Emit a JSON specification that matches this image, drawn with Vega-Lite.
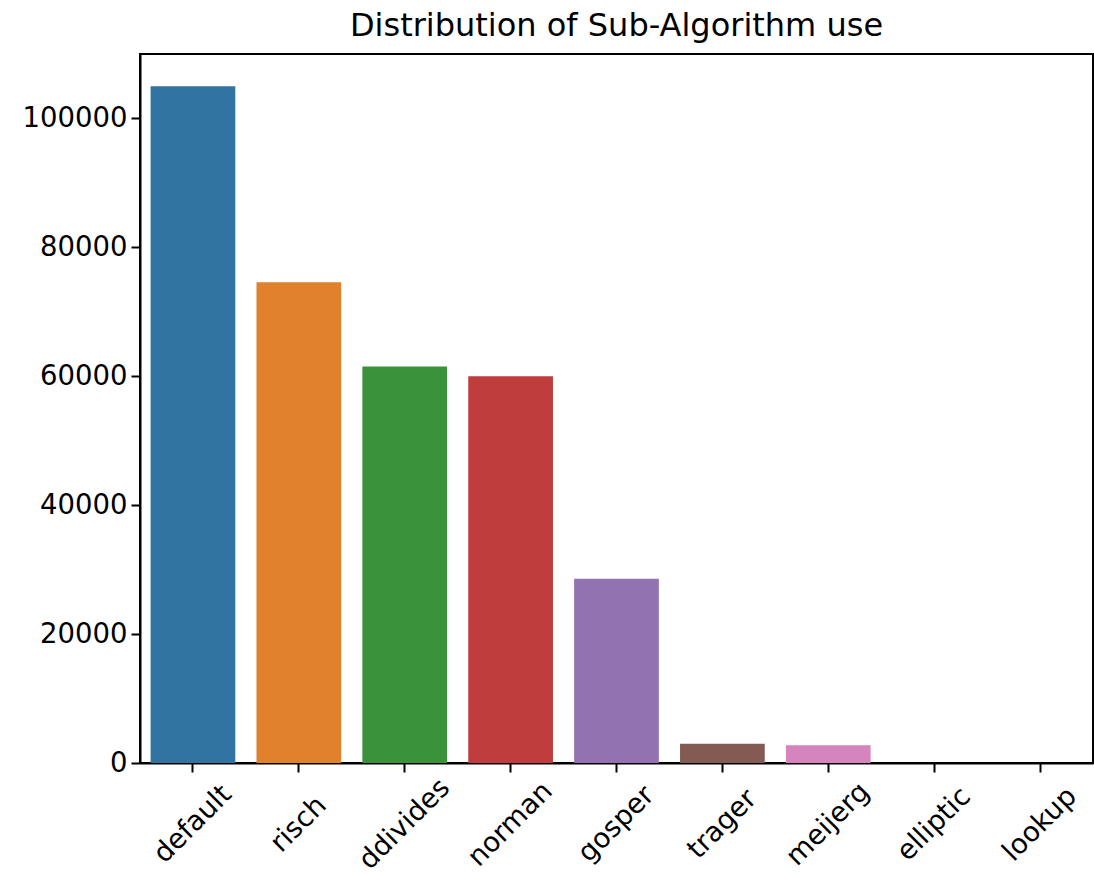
{
  "$schema": "https://vega.github.io/schema/vega-lite/v6.json",
  "width": 953,
  "height": 709,
  "autosize": {"type": "none"},
  "padding": {"left": 140, "top": 54, "right": 1, "bottom": 112},
  "background": "white",
  "title": {
    "text": "Distribution of Sub-Algorithm use",
    "font": "DejaVu Sans",
    "fontSize": 32,
    "fontWeight": "normal",
    "color": "#000000",
    "anchor": "middle",
    "offset": 11
  },
  "config": {
    "view": {"stroke": "#000000", "strokeWidth": 2},
    "axis": {
      "labelFont": "DejaVu Sans",
      "labelFontSize": 27.5,
      "labelColor": "#000000",
      "domainColor": "#000000",
      "domainWidth": 2,
      "tickColor": "#000000",
      "tickWidth": 2,
      "tickSize": 9,
      "grid": false,
      "title": null
    }
  },
  "data": {
    "values": [
      {"algorithm": "default", "count": 105000},
      {"algorithm": "risch", "count": 74600},
      {"algorithm": "ddivides", "count": 61500},
      {"algorithm": "norman", "count": 60000},
      {"algorithm": "gosper", "count": 28600},
      {"algorithm": "trager", "count": 3000},
      {"algorithm": "meijerg", "count": 2750},
      {"algorithm": "elliptic", "count": 0},
      {"algorithm": "lookup", "count": 0}
    ]
  },
  "mark": {"type": "bar"},
  "encoding": {
    "x": {
      "field": "algorithm",
      "type": "nominal",
      "sort": null,
      "scale": {"paddingInner": 0.2, "paddingOuter": 0.1},
      "axis": {
        "labelAngle": -45,
        "labelAlign": "center",
        "labelBaseline": "middle",
        "labelPadding": 52
      }
    },
    "y": {
      "field": "count",
      "type": "quantitative",
      "scale": {"domain": [0, 110000], "nice": false},
      "axis": {
        "values": [0, 20000, 40000, 60000, 80000, 100000],
        "format": "d",
        "labelPadding": 4
      }
    },
    "color": {
      "field": "algorithm",
      "type": "nominal",
      "sort": null,
      "legend": null,
      "scale": {
        "domain": ["default", "risch", "ddivides", "norman", "gosper", "trager", "meijerg", "elliptic", "lookup"],
        "range": ["#3274a1", "#e1812c", "#3a923a", "#c03d3e", "#9372b2", "#845b53", "#d684bd", "#7f7f7f", "#a9aa35"]
      }
    }
  }
}
